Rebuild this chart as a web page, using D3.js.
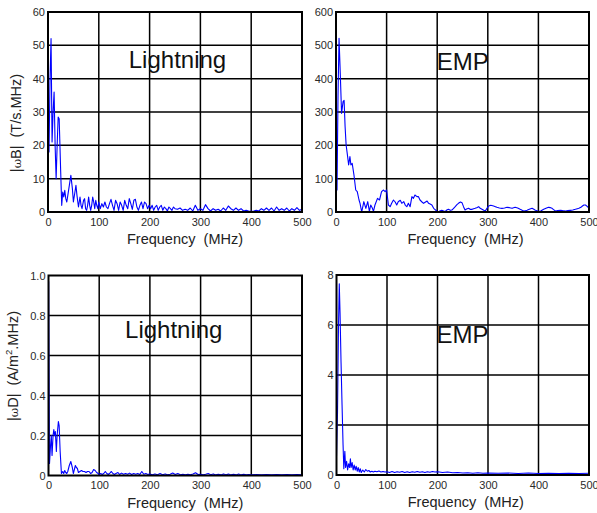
<!DOCTYPE html>
<html>
<head>
<meta charset="utf-8">
<script src="https://cdn.jsdelivr.net/npm/d3@7"></script>
<style>
  html, body { margin: 0; padding: 0; background: #fff; }
  svg { display: block; font-family: "Liberation Sans", Arial, sans-serif; }
</style>
</head>
<body>
<svg id="chart" width="597" height="513"></svg>
<script>
// ---------- DATA ----------
const freqTicks = [0, 100, 200, 300, 400, 500];
const freqTickLabels = ["0", "100", "200", "300", "400", "500"];

const bLightTicks = [0, 10, 20, 30, 40, 50, 60];
const bLightTickLabels = ["0", "10", "20", "30", "40", "50", "60"];
const bEmpTicks = [0, 100, 200, 300, 400, 500, 600];
const bEmpTickLabels = ["0", "100", "200", "300", "400", "500", "600"];
const dLightTicks = [0, 0.2, 0.4, 0.6, 0.8, 1.0];
const dLightTickLabels = ["0", "0.2", "0.4", "0.6", "0.8", "1.0"];
const dEmpTicks = [0, 2, 4, 6, 8];
const dEmpTickLabels = ["0", "2", "4", "6", "8"];

// |ωB| Lightning  [freq MHz, value]
const bLightning = [
[0,0],[1,22],[2,18],[4,40],[6,52],[8,21],[10,30],[12,36],[14,20],[16,10],[18,20],[20,28.5],[22,28],[25,12],[27,2],
[29,6],[31,4.5],[33,6.5],[35,4],[37,3],[39,5],[42,8],[45,11],[48,7],[50,3],[53,6],[55,8],[57,5],[60,1.5],[63,4.5],
[65,2],[67,1],[70,3.5],[72,4],[74,1],[76,0.5],[78,2],[80,4.5],[82,2],[84,0.5],[86,2],[88,4.5],[90,3],[92,1],[94,3.5],
[96,2],[98,1],[100,3],[103,1],[106,2.5],[109,1.5],[112,3],[115,1.5],[118,1],[121,2.5],[124,3.8],[127,2],[130,0.5],
[133,3.5],[136,2.5],[139,0.5],[142,3],[145,2],[148,0.5],[151,3.5],[154,2],[157,1],[160,4],[163,2.5],[166,0.8],
[169,3.5],[172,3.8],[175,1.5],[178,0.5],[181,2],[184,3],[187,1],[190,3],[193,2.5],[196,1],[199,2],[202,1],[205,2],
[208,0.5],[211,1.5],[214,2],[217,0.5],[220,1.5],[223,2],[226,0.5],[229,1.5],[232,1],[235,0.3],[238,1.5],[241,1],
[244,0.5],[247,1.5],[250,1],[255,0.8],[260,1.2],[265,0.5],[270,0.8],[275,0.5],[280,1.2],[285,0.3],[290,2],[295,0.5],
[300,1],[305,0.5],[310,2.2],[315,1],[320,0.3],[325,1],[330,0.5],[335,0.8],[340,0.3],[345,1.2],[350,0.5],[355,1.8],
[360,1],[365,0.5],[370,1.2],[375,0.5],[380,1],[385,0.3],[390,0.5],[395,0.3],[400,0.2],[405,0.3],[410,0.5],[415,0.3],
[420,1],[425,0.5],[430,1.2],[435,0.5],[440,1.2],[445,0.3],[450,1.5],[455,0.5],[460,1],[465,0.5],[470,1.2],[475,0.3],
[480,1],[485,0.5],[490,1.3],[495,0.5],[500,0.8]
];

// |ωB| EMP
const bEmp = [
[0,0],[1,96],[2,66],[4,350],[6,521],[8,436],[11,296],[14,331],[16,335],[18,256],[20,201],[23,166],[25,141],[27.5,166],
[29.5,141],[32,146],[35.5,111],[39,66],[42,61],[45.5,36],[47.5,26],[50.8,0],[55,31],[59,11],[62.7,31],[66,2],[68.6,21],
[72,11],[74,2],[77,21],[82,41],[86,36],[90,61],[94,66],[97,61],[100,66],[103.6,21],[107,16],[110,26],[113.5,36],[117,30],
[120,21],[123,31],[127,35],[130,26],[134,31],[137,20],[140,16],[143,26],[146.5,16],[150,46],[153,41],[156,51],[160,46],
[163,46],[166,36],[170,30],[173,26],[177,30],[180,33],[183,26],[186,24],[189.5,21],[193,11],[199,3],[202.6,0],[206,4],
[209,5],[213,3],[216,2],[219,6],[222,8],[226,5],[229,6],[232,10],[235.6,16],[239,22],[242,26],[246,30],[249,28],[252,16],
[255,6],[258,9],[262,11],[265,8],[269,8],[272,10],[275,11],[278,13],[282,16],[285,11],[288.5,8],[292,5],[295,3],[298,10],
[301.6,18],[306,20],[311.5,18],[315,16],[318,14],[323,12],[328,11],[333,12],[338,14],[343,13],[348,11],[354,14],[359,12],
[364,8],[368,5],[371,3],[374,4],[377.6,5],[382,8],[387.5,11],[391,8],[394,5],[399,3],[404,2],[407,5],[410.5,8],[415,11],
[420,14],[424,13],[427,11],[430,7],[433.7,3],[438,4],[443.6,5],[448,4],[453.5,3],[458,4],[463,5],[468,6],[473,8],[477,10],
[480,11],[484,14],[487,18],[490,21],[493,21],[497,16],[500,11]
];

// |ωD| Lightning
const dLightning = [
[0,0],[0.3,0.97],[2,0.06],[4,0.15],[5.5,0.2],[7,0.1],[9,0.2],[10.5,0.23],[12,0.2],[13.5,0.22],[15.5,0.12],[17,0.2],
[19.5,0.27],[21,0.25],[23,0.12],[25.5,0.01],[28,0.02],[30,0.01],[32,0.025],[34,0.015],[36,0.01],[38,0.02],[41,0.05],
[44,0.07],[47,0.04],[49,0.01],[51,0.03],[53,0.05],[55,0.04],[57,0.035],[59,0.015],[62,0.02],[65,0.025],[68,0.02],
[71,0.02],[74,0.015],[77,0.02],[80,0.02],[83,0.01],[86,0.015],[89,0.03],[92,0.025],[95,0.015],[98,0.01],[100,0.005],
[103,0.01],[106,0.005],[109,0.01],[112,0.02],[115,0.01],[118,0.005],[121,0.012],[124,0.02],[127,0.01],[130,0.005],
[133,0.01],[137,0.015],[140,0.005],[144,0.012],[148,0.006],[152,0.01],[156,0.006],[160,0.012],[164,0.005],[168,0.01],
[172,0.006],[176,0.01],[180,0.005],[184,0.02],[188,0.006],[192,0.01],[196,0.005],[200,0.008],[205,0.004],[210,0.008],
[215,0.004],[220,0.01],[225,0.004],[230,0.008],[235,0.004],[240,0.006],[245,0.012],[250,0.005],[255,0.01],[260,0.004],
[265,0.006],[270,0.003],[275,0.006],[280,0.004],[285,0.008],[290,0.014],[295,0.005],[300,0.006],[305,0.003],[310,0.006],
[315,0.01],[320,0.004],[325,0.008],[330,0.003],[335,0.006],[340,0.003],[345,0.008],[350,0.004],[355,0.007],[360,0.003],
[365,0.006],[370,0.003],[375,0.007],[380,0.003],[385,0.006],[390,0.003],[395,0.005],[400,0.003],[410,0.005],[420,0.003],
[430,0.005],[440,0.003],[450,0.005],[460,0.003],[470,0.005],[480,0.003],[490,0.005],[500,0.004]
];

// |ωD| EMP
const dEmp = [
[0,0.75],[2,2.5],[4,6],[5.5,7.65],[7,6.5],[9,4.5],[11,2.8],[13,1.2],[14.5,0.25],[16.5,0.95],[18,0.3],[20,0.55],[22,0.2],
[24,0.45],[26,0.3],[27.5,0.65],[29,0.3],[31,0.5],[33,0.2],[35,0.4],[37,0.2],[39,0.35],[41,0.15],[43,0.3],[45,0.12],
[47,0.25],[49,0.1],[52,0.2],[55,0.12],[58,0.22],[61,0.15],[64,0.18],[67,0.12],[70,0.15],[73,0.12],[76,0.15],[80,0.13],
[84,0.16],[88,0.12],[92,0.14],[96,0.12],[100,0.13],[105,0.1],[110,0.14],[115,0.1],[120,0.13],[125,0.11],[130,0.14],
[135,0.1],[140,0.13],[145,0.1],[150,0.13],[155,0.11],[160,0.14],[165,0.11],[170,0.13],[175,0.1],[180,0.13],[185,0.11],
[190,0.14],[195,0.12],[200,0.13],[210,0.1],[220,0.12],[230,0.09],[240,0.1],[250,0.08],[260,0.09],[270,0.07],[280,0.09],
[290,0.07],[300,0.08],[320,0.07],[340,0.08],[360,0.06],[380,0.08],[400,0.06],[420,0.07],[440,0.06],[460,0.07],[480,0.06],
[500,0.07]
];

const xTitle = "Frequency  (MHz)";

// ---------- LAYOUT ----------
const panels = [
  { data: bLightning, yMax: 60, yTicks: bLightTicks, yLabels: bLightTickLabels,
    box: {l: 48, r: 302, t: 12, b: 212}, label: "Lightning", labelAt: [159, 43.2],
    yTitle: {sym: "B", unit: "(T/s.MHz)", sup: null, x: 21, y: 123} },
  { data: bEmp, yMax: 600, yTicks: bEmpTicks, yLabels: bEmpTickLabels,
    box: {l: 336, r: 589, t: 12, b: 212}, label: "EMP", labelAt: [199, 426], yTitle: null },
  { data: dLightning, yMax: 1, yTicks: dLightTicks, yLabels: dLightTickLabels,
    box: {l: 48.5, r: 302, t: 275.5, b: 475.5}, label: "Lightning", labelAt: [151, 0.686],
    yTitle: {sym: "D", unit: "(A/m", sup: "2", tail: ".MHz)", x: 18, y: 366} },
  { data: dEmp, yMax: 8, yTicks: dEmpTicks, yLabels: dEmpTickLabels,
    box: {l: 336.5, r: 589, t: 275, b: 475}, label: "EMP", labelAt: [198, 5.27], yTitle: null }
];

const svg = d3.select("#chart");

panels.forEach((p, i) => {
  const x = d3.scaleLinear().domain([0, 500]).range([p.box.l, p.box.r]);
  const y = d3.scaleLinear().domain([0, p.yMax]).range([p.box.b, p.box.t]);
  const g = svg.append("g");

  const clipId = "clip" + i;
  svg.append("clipPath").attr("id", clipId).append("rect")
    .attr("x", p.box.l).attr("y", p.box.t - 1)
    .attr("width", p.box.r - p.box.l).attr("height", p.box.b - p.box.t + 1);

  // grid
  g.selectAll(".vg").data(freqTicks.slice(1, -1)).join("line")
    .attr("x1", d => x(d)).attr("x2", d => x(d))
    .attr("y1", p.box.t).attr("y2", p.box.b)
    .attr("stroke", "#000").attr("stroke-width", 1.5);
  g.selectAll(".hg").data(p.yTicks.slice(1, -1)).join("line")
    .attr("y1", d => y(d)).attr("y2", d => y(d))
    .attr("x1", p.box.l).attr("x2", p.box.r)
    .attr("stroke", "#000").attr("stroke-width", 1.5);

  // x axis tick labels
  const xAxis = d3.axisBottom(x).tickValues(freqTicks)
    .tickFormat((d, k) => freqTickLabels[k]).tickSize(0).tickPadding(6);
  const xa = g.append("g").attr("transform", `translate(0,${p.box.b})`).call(xAxis);
  xa.select(".domain").remove();
  xa.selectAll("text").attr("font-size", 11).attr("fill", "#2a2a2a")
    .attr("font-family", "Liberation Sans, Arial, sans-serif");

  // y axis tick labels
  const yAxis = d3.axisLeft(y).tickValues(p.yTicks)
    .tickFormat((d, k) => p.yLabels[k]).tickSize(0).tickPadding(3);
  const ya = g.append("g").attr("transform", `translate(${p.box.l},0)`).call(yAxis);
  ya.select(".domain").remove();
  ya.selectAll("text").attr("font-size", 11).attr("fill", "#2a2a2a")
    .attr("font-family", "Liberation Sans, Arial, sans-serif");

  // data line
  const line = d3.line().x(d => x(d[0])).y(d => y(d[1]));
  g.append("path").datum(p.data)
    .attr("clip-path", `url(#${clipId})`)
    .attr("d", line).attr("fill", "none")
    .attr("stroke", "#0000ff").attr("stroke-width", 1.1)
    .attr("stroke-linejoin", "round");

  // frame
  g.append("rect").attr("x", p.box.l).attr("y", p.box.t)
    .attr("width", p.box.r - p.box.l).attr("height", p.box.b - p.box.t)
    .attr("fill", "none").attr("stroke", "#000").attr("stroke-width", 2);

  // panel label
  g.append("text").attr("x", x(p.labelAt[0])).attr("y", y(p.labelAt[1]))
    .attr("font-size", 24).attr("fill", "#111").text(p.label);

  // x title
  g.append("text").attr("x", (p.box.l + p.box.r) / 2 + (i % 2 ? 3 : 10))
    .attr("y", p.box.b + 32).attr("text-anchor", "middle")
    .attr("font-size", 14.5).attr("fill", "#222")
    .style("white-space", "pre").text(xTitle);

  // y title
  if (p.yTitle) {
    const t = g.append("text")
      .attr("transform", `translate(${p.yTitle.x},${p.yTitle.y}) rotate(-90)`)
      .attr("text-anchor", "middle").attr("font-size", 14.5).attr("fill", "#222")
      .style("white-space", "pre");
    t.append("tspan").text("|");
    t.append("tspan").attr("font-size", 11.5).attr("font-family", "DejaVu Serif, serif").text("ω");
    t.append("tspan").text(p.yTitle.sym + "|  " + p.yTitle.unit);
    if (p.yTitle.sup) {
      t.append("tspan").attr("font-size", 9.5).attr("dy", -6).text(p.yTitle.sup);
      t.append("tspan").attr("dy", 6).text(p.yTitle.tail);
    }
  }
});
</script>
</body>
</html>
